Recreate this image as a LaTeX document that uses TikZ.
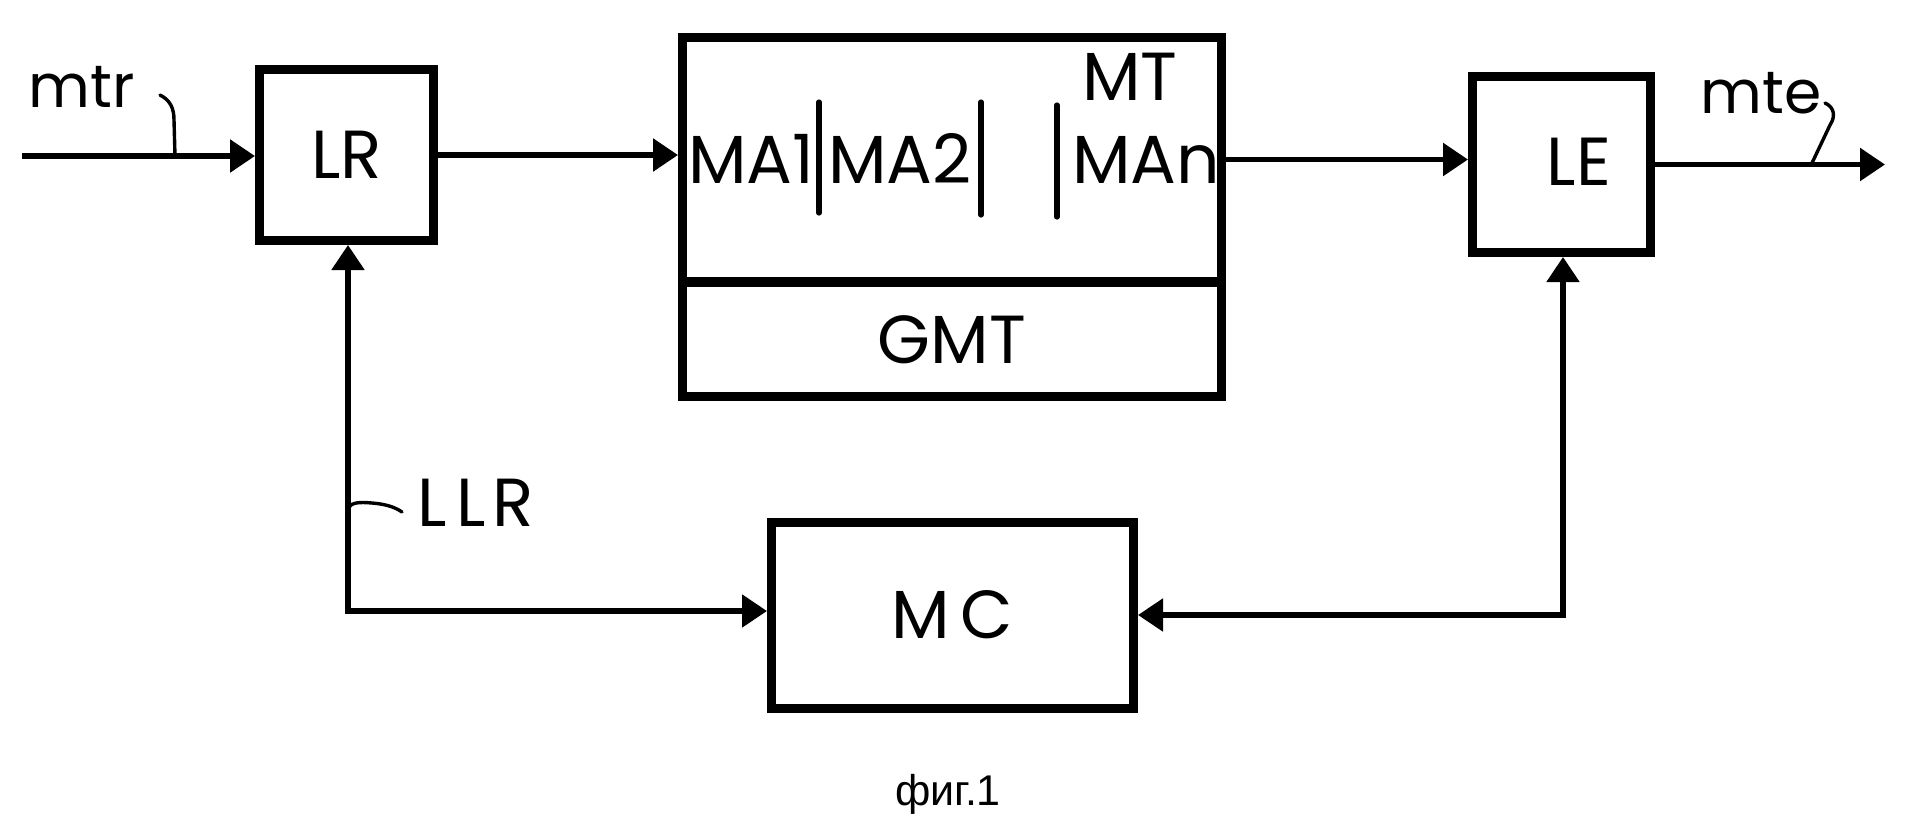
\documentclass[tikz,border=0pt]{standalone}
\usepackage{fontspec}
\setmainfont{Liberation Sans}
\newfontfamily\pop{Poppins}
\usetikzlibrary{arrows.meta}
\newcommand{\biglab}{\pop\fontsize{34}{40}\selectfont}
\newcommand{\smalllab}{\pop\fontsize{30}{36}\selectfont}
\begin{document}
\begin{tikzpicture}[x=0.5pt,y=-0.5pt,
  box/.style={draw,line width=4.5pt,inner sep=0pt,rectangle},
  >={Triangle[length=12.5pt,width=16pt]},
  flow/.style={line width=2.8pt,->},
  fb/.style={line width=2.6pt,<->},
  bar/.style={line width=2.6pt,line cap=round},
  squig/.style={line width=1.7pt,line cap=round},
  lab/.style={font=\biglab,inner sep=0pt},
  slab/.style={font=\smalllab,inner sep=0pt}]
\fill[white] (0,0) rectangle (1921,837);
\useasboundingbox (0,0) rectangle (1921,837);

% boxes
\node[box,minimum width=87pt,minimum height=85.5pt,font=\biglab] (LR) at (346.5,155) {LR};
\node[box,minimum width=269.5pt,minimum height=122pt] (MT) at (952,159.5) {};
\node[box,minimum width=269.5pt,minimum height=57pt,font=\biglab] (GMT) at (952,339.5) {GMT};
\node[box,minimum width=89pt,minimum height=88pt] (LE) at (1561.5,164.5) {};
\node[lab] (LEt) at (1579,162) {LE};
\node[box,minimum width=181pt,minimum height=93pt,font=\biglab] (MC) at (952.5,615) {M\hspace{5pt}C};

% contents of MT
\node[lab,anchor=base west] (MA1) at (688,183) {MA1};
\node[lab,anchor=base west] (MA2) at (828,183) {MA2};
\node[lab,anchor=base west] (MAn) at (1072,183) {MAn};
\node[lab] (MTl) at (1130,76.5) {MT};
\draw[bar] (819,102) -- (819,213);
\draw[bar] (981,102) -- (981,215);
\draw[bar] (1057,105) -- (1057,217);

% main flow
\coordinate (in) at (22,156);
\coordinate (out) at (1885,164.5);
\draw[flow] (in) -- (in -| LR.west);
\draw[flow] (LR.east) -- (LR.east -| MT.west);
\draw[flow] (MT.east) -- (MT.east -| LE.west);
\draw[flow] (LE.east) -- (out);

% feedback
\coordinate (llr) at (348,611);
\coordinate (lec) at (1563,615);
\draw[fb] (llr |- LR.south) -- (llr) -- (llr -| MC.west);
\draw[fb] (lec |- LE.south) -- (lec) -- (lec -| MC.east);

% labels
\node[slab,anchor=base west] (mtr) at (28,107) {mtr};
\draw[squig] (160,95) .. controls (170,100) and (174,108) .. (174,120) -- (175,156);
\node[slab,anchor=base west] (mte) at (1700,113) {mte};
\draw[squig] (1825,103) .. controls (1834,107) and (1836,116) .. (1830,125) -- (1812,163);
\node[lab,anchor=base west] (LLR) at (417,526) {L\hspace{5pt}L\hspace{3pt}R};
\draw[squig] (348,508) .. controls (352,502) and (360,502) .. (372,503) .. controls (385,504) and (395,507) .. (402,512);

\node[font=\fontsize{21.5}{26}\selectfont,anchor=base,inner sep=0pt] (cap) at (948,805) {фиг.1};
\end{tikzpicture}
\end{document}
